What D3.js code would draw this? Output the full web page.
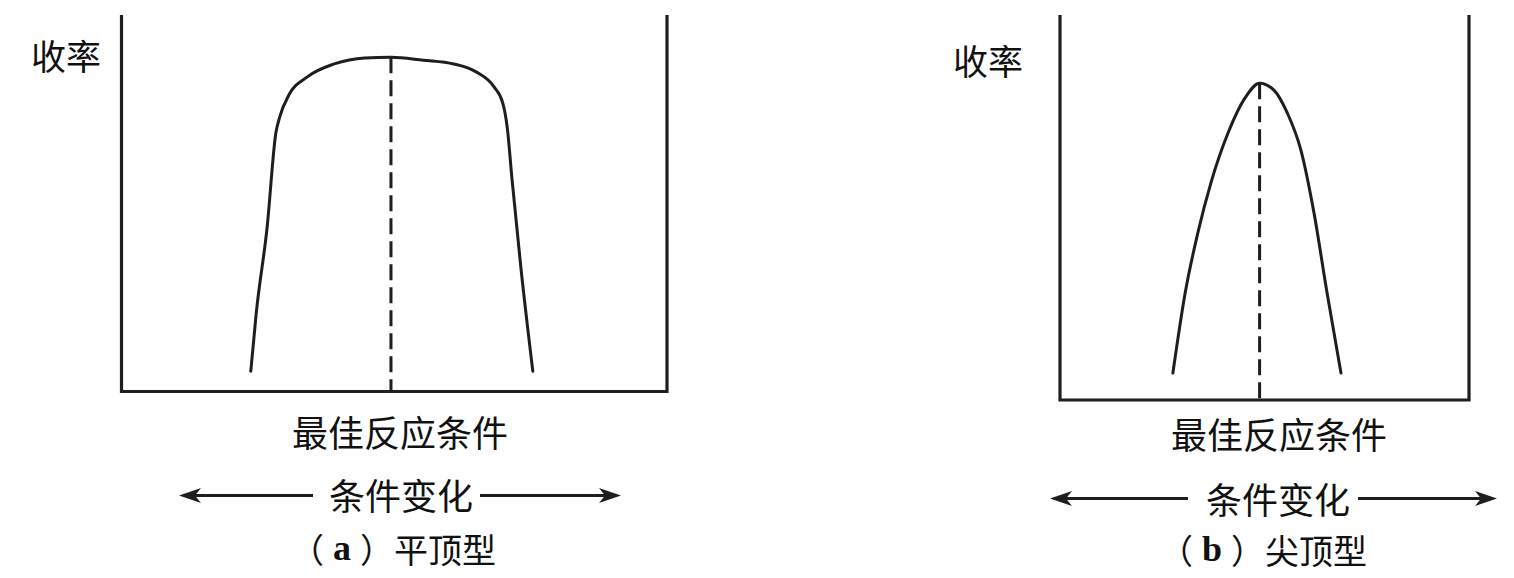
<!DOCTYPE html>
<html>
<head>
<meta charset="utf-8">
<script src="https://cdn.jsdelivr.net/npm/d3@7"></script>
<style>
  html, body { margin: 0; padding: 0; background: #fff; }
  svg { display: block; }
  text { font-family: "Noto Sans CJK SC", "Noto Sans", sans-serif; fill: #111; }
</style>
</head>
<body>
<svg id="chart" width="1514" height="578"></svg>
<script>
// ---- data (condition on x: 0..100 ; yield on y: 0..100) ----
const flatX = [23.7, 24.7, 26.7, 28.3, 29.0, 30.7, 34.0, 39.0, 44.6, 49.4, 55.3, 60.9, 65.0, 68.3, 69.9, 70.7, 71.6, 73.2, 75.4];
const flatY = [5.4, 20.8, 43.7, 68.7, 72.9, 78.8, 83.5, 87.0, 88.6, 88.8, 88.0, 87.0, 84.9, 80.9, 76.6, 70.3, 56.2, 33.1, 5.4];
const flatOptimum = 49.4;

const sharpX = [27.6, 30.6, 33.7, 36.9, 41.1, 45.2, 48.8, 52.3, 55.6, 58.9, 62.1, 65.3, 68.7];
const sharpY = [7.0, 27.8, 43.4, 56.4, 69.4, 78.4, 82.3, 80.5, 74.5, 64.9, 48.6, 27.8, 7.0];
const sharpOptimum = 48.8;

const yLabel = "收率";
const xLabel = "最佳反应条件";
const changeLabel = "条件变化";
const captionLetters = ["a", "b"];
const captionNames = ["平顶型", "尖顶型"];

// ---- layout ----
const svg = d3.select("#chart");
const ink = "#1e1e1e";

const panels = [
  { xs: flatX, ys: flatY, opt: flatOptimum, letter: captionLetters[0], name: captionNames[0],
    left: 121.5, right: 667, top: 15, bottom: 391.5,
    yLab: [66, 54], xLab: [400, 431], chg: [401, 494], arrows: [313, 179, 480, 621, 495.5], cap: [393, 548] },
  { xs: sharpX, ys: sharpY, opt: sharpOptimum, letter: captionLetters[1], name: captionNames[1],
    left: 1060, right: 1469, top: 15, bottom: 400,
    yLab: [988, 59], xLab: [1279, 433], chg: [1278, 498], arrows: [1188, 1050, 1358, 1497, 498.5], cap: [1263, 549] }
];

function arrowHead(g, x0, x1, y) {
  const dir = Math.sign(x1 - x0);
  const L = 22, W = 7.5, N = 6;
  const pts = [
    [x1, y],
    [x1 - dir * L, y - W],
    [x1 - dir * (L - N), y],
    [x1 - dir * L, y + W]
  ];
  g.append("path").attr("d", "M" + pts.map(p => p.join(",")).join("L") + "Z").attr("fill", ink);
  g.append("line")
    .attr("x1", x0).attr("x2", x1 - dir * (L - N)).attr("y1", y).attr("y2", y)
    .attr("stroke", ink).attr("stroke-width", 3);
}

panels.forEach(p => {
  const x = d3.scaleLinear().domain([0, 100]).range([p.left, p.right]);
  const y = d3.scaleLinear().domain([0, 100]).range([p.bottom, p.top]);
  const g = svg.append("g");

  g.append("path")
    .attr("d", `M${x(0)},${y(100)}L${x(0)},${y(0)}L${x(100)},${y(0)}L${x(100)},${y(100)}`)
    .attr("fill", "none").attr("stroke", ink).attr("stroke-width", 3.2)
    .attr("stroke-linejoin", "miter");

  const data = p.xs.map((v, i) => [v, p.ys[i]]);
  const line = d3.line().x(d => x(d[0])).y(d => y(d[1])).curve(d3.curveMonotoneX);
  g.append("path").datum(data).attr("d", line)
    .attr("fill", "none").attr("stroke", ink).attr("stroke-width", 3)
    .attr("stroke-linecap", "round");

  const optIdx = p.xs.indexOf(p.opt);
  g.append("line")
    .attr("x1", x(p.opt)).attr("x2", x(p.opt))
    .attr("y1", y(p.ys[optIdx])).attr("y2", y(0))
    .attr("stroke", ink).attr("stroke-width", 3).attr("stroke-dasharray", "16 7");

  g.append("text").attr("x", p.yLab[0]).attr("y", p.yLab[1])
    .attr("text-anchor", "middle").attr("dominant-baseline", "central")
    .style("font-size", "35px").text(yLabel);
  g.append("text").attr("x", p.xLab[0]).attr("y", p.xLab[1])
    .attr("text-anchor", "middle").attr("dominant-baseline", "central")
    .style("font-size", "36px").text(xLabel);
  g.append("text").attr("x", p.chg[0]).attr("y", p.chg[1])
    .attr("text-anchor", "middle").attr("dominant-baseline", "central")
    .style("font-size", "36px").text(changeLabel);

  const cap = g.append("text").attr("x", p.cap[0]).attr("y", p.cap[1])
    .attr("text-anchor", "middle").attr("dominant-baseline", "central")
    .style("font-size", "34px");
  cap.append("tspan").text("（");
  cap.append("tspan").style("font-family", "'Liberation Serif', serif").style("font-size", "36px")
    .style("font-weight", "bold")
    .text(" " + p.letter + " ");
  cap.append("tspan").text("）" + p.name);

  const a = p.arrows;
  arrowHead(g, a[0], a[1], a[4]);
  arrowHead(g, a[2], a[3], a[4]);
});
</script>
</body>
</html>
